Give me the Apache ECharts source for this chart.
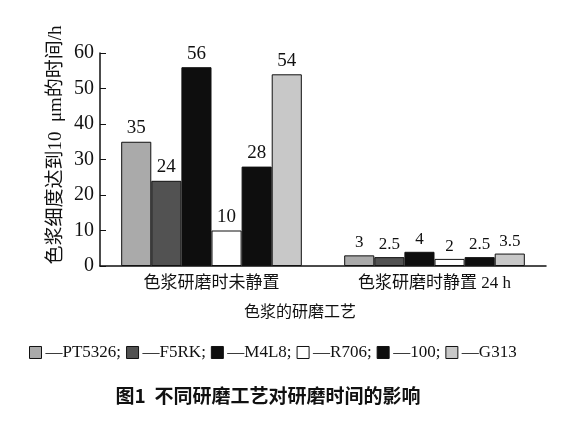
<!DOCTYPE html>
<html>
<head>
<meta charset="utf-8">
<script src="https://cdn.jsdelivr.net/npm/echarts@6/dist/echarts.min.js"></script>
<style>html,body{margin:0;padding:0;background:#fff}#c{width:580px;height:432px}</style>
</head>
<body>
<div id="c"></div>
<script>
const categories = ['色浆研磨时未静置', '色浆研磨时静置 24 h'];
const seriesNames = ['PT5326', 'F5RK', 'M4L8', 'R706', '100', 'G313'];
const PT5326 = [35, 3];
const F5RK = [24, 2.5];
const M4L8 = [56, 4];
const R706 = [10, 2];
const S100 = [28, 2.5];
const G313 = [54, 3.5];
const seriesValues = [PT5326, F5RK, M4L8, R706, S100, G313];
const yTicks = [0, 10, 20, 30, 40, 50, 60];

const colors = ['#aaaaaa', '#525252', '#0e0e0e', '#ffffff', '#0e0e0e', '#c8c8c8'];
const serif = "'Liberation Serif', 'Noto Sans CJK SC', serif";
const labelSizes = [19, 17];

const chart = echarts.init(document.getElementById('c'));
const series = seriesNames.map((n, i) => ({
  name: n,
  type: 'bar',
  barGap: '0%',
  barCategoryGap: '19%',
  itemStyle: { color: colors[i], borderColor: '#111', borderWidth: 1 },
  label: { show: true, position: 'top', distance: 4, color: '#111', fontFamily: serif },
  data: seriesValues[i].map((v, j) => ({ value: v, label: { fontSize: labelSizes[j] } }))
}));

chart.setOption({
  animation: false,
  backgroundColor: '#fff',
  grid: { left: 100, right: 34, top: 53, bottom: 166 },
  legend: {
    left: 24, top: 339,
    itemWidth: 12, itemHeight: 12, itemGap: 5,
    icon: 'rect',
    itemStyle: { borderColor: '#111', borderWidth: 1 },
    textStyle: { fontFamily: serif, fontSize: 17, color: '#111', padding: [0, 0, 0, -1] },
    formatter: name => '—' + name + (name === seriesNames[seriesNames.length - 1] ? '' : ';'),
    data: seriesNames
  },
  xAxis: {
    type: 'category',
    data: categories,
    axisLine: { lineStyle: { color: '#111', width: 1.5 } },
    axisTick: { inside: true, length: 5, lineStyle: { color: '#111' } },
    axisLabel: { color: '#111', fontSize: 17, margin: 9, fontFamily: serif }
  },
  yAxis: {
    type: 'value',
    min: 0, max: 60, interval: 10,
    axisLine: { show: true, lineStyle: { color: '#111', width: 1.5 } },
    axisTick: { show: true, inside: true, length: 6, lineStyle: { color: '#111' } },
    splitLine: { show: false },
    axisLabel: { color: '#111', fontSize: 20, margin: 6, fontFamily: serif,
      formatter: v => yTicks.includes(v) ? String(v) : '' }
  },
  graphic: [
    { type: 'text', x: 56, y: 145, rotation: Math.PI / 2,
      style: { text: '色浆细度达到10  μm的时间/h', fontFamily: serif, fontSize: 19, fill: '#111',
        align: 'center', verticalAlign: 'middle' } },
    { type: 'text', x: 300, y: 313,
      style: { text: '色浆的研磨工艺', fontFamily: serif, fontSize: 16, fill: '#111',
        align: 'center', verticalAlign: 'middle' } },
    { type: 'text', x: 268, y: 396,
      style: { text: '图1  不同研磨工艺对研磨时间的影响', fontFamily: "'Noto Sans CJK SC', sans-serif",
        fontWeight: 'bold', fontSize: 19, fill: '#111', align: 'center', verticalAlign: 'middle' } }
  ],
  series: series
});
</script>
</body>
</html>
